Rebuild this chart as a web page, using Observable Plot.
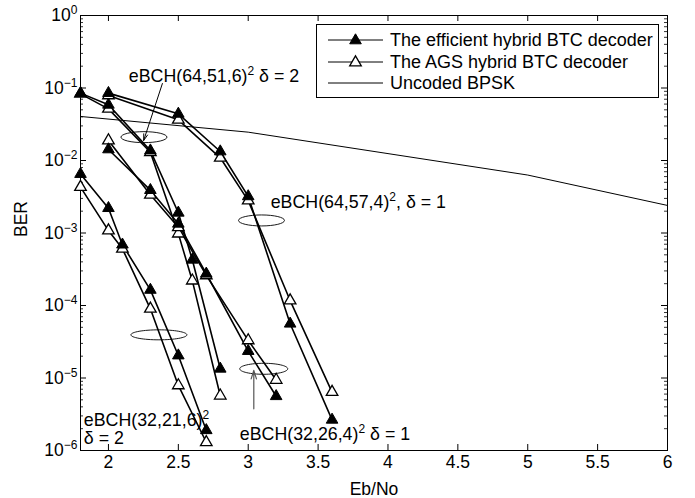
<!DOCTYPE html>
<html>
<head>
<meta charset="utf-8">
<script src="https://cdn.jsdelivr.net/npm/d3@7"></script>
<script src="https://cdn.jsdelivr.net/npm/@observablehq/plot@0.6"></script>
<style>
  body { margin: 0; background: white; }
  #wrap { position: relative; width: 695px; height: 498px; font-family: "Liberation Sans", Arial, Helvetica, sans-serif; }
  #legend { position: absolute; left: 316px; top: 24px; }
</style>
</head>
<body>
<div id="wrap"></div>
<script>
// ---------------- data ----------------
const xTicks = [2, 2.5, 3, 3.5, 4, 4.5, 5, 5.5, 6];
const xTickLabels = ["2", "2.5", "3", "3.5", "4", "4.5", "5", "5.5", "6"];
const yMajor = [1e-6, 1e-5, 1e-4, 1e-3, 1e-2, 1e-1, 1];
const yTickLabels = ["10^{−6}", "10^{−5}", "10^{−4}", "10^{−3}", "10^{−2}", "10^{−1}", "10^{0}"];

const legendLabels = ["The efficient hybrid BTC decoder", "The AGS hybrid BTC decoder", "Uncoded BPSK"];

// eBCH(64,51,6)^2, delta = 2
const x_6451 = [1.8, 2.0, 2.3, 2.5, 2.6, 2.8];
const eff_6451 = [0.085, 0.0586, 0.0137, 0.0019, 4.27e-4, 1.34e-5];
const ags_6451 = [0.083, 0.0516, 0.0130, 0.00098, 2.2e-4, 5.7e-6];
// eBCH(64,57,4)^2, delta = 1
const x_6457 = [2.0, 2.5, 2.8, 3.0, 3.3, 3.6];
const eff_6457 = [0.085, 0.044, 0.0133, 0.0032, 5.6e-5, 2.65e-6];
const ags_6457 = [0.079, 0.0364, 0.0109, 0.0028, 1.17e-4, 6.4e-6];
// eBCH(32,26,4)^2, delta = 1
const x_3226 = [2.0, 2.3, 2.5, 2.7, 3.0, 3.2];
const eff_3226 = [0.0142, 0.0039, 0.00134, 2.74e-4, 2.35e-5, 5.6e-6];
const ags_3226 = [0.0189, 0.00336, 0.0012, 2.6e-4, 3.3e-5, 9.4e-6];
// eBCH(32,21,6)^2, delta = 2
const x_3221 = [1.8, 2.0, 2.1, 2.3, 2.5, 2.7];
const eff_3221 = [0.0065, 0.0022, 6.9e-4, 1.64e-4, 2.04e-5, 1.9e-6];
const ags_3221 = [0.0043, 0.00108, 6.05e-4, 9.0e-5, 7.9e-6, 1.3e-6];
// Uncoded BPSK
const bpskX = [1.8, 3.0, 5.0, 6.0];
const bpskY = [0.0405, 0.0246, 0.0063, 0.0024];

// annotations (anchor points in data coordinates)
const annoText = ["eBCH(64,51,6)^{2} δ = 2", "eBCH(64,57,4)^{2}, δ = 1", "eBCH(32,21,6)^{2}\nδ = 2", "eBCH(32,26,4)^{2} δ = 1"];
const annoX = [2.146, 3.161, 1.824, 2.94];
const annoY = [0.1486, 0.00264, 1.98e-6, 1.71e-6];
const ellipseX = [2.254, 3.095, 2.361, 3.111];
const ellipseY = [0.0210, 0.00149, 3.94e-5, 1.34e-5];
const arrowX1 = [2.386, 3.04], arrowY1 = [0.1153, 3.76e-6];
const arrowX2 = [2.252, 3.04], arrowY2 = [0.0189, 1.27e-5];

// ---------------- build tables ----------------
function series(code, xs, ys) { return xs.map((x, i) => ({code, x, y: ys[i]})); }
const eff = [
  ...series("6451", x_6451, eff_6451), ...series("6457", x_6457, eff_6457),
  ...series("3226", x_3226, eff_3226), ...series("3221", x_3221, eff_3221)
];
const ags = [
  ...series("6451", x_6451, ags_6451), ...series("6457", x_6457, ags_6457),
  ...series("3226", x_3226, ags_3226), ...series("3221", x_3221, ags_3221)
];
const bpsk = series("bpsk", bpskX, bpskY);
const annos = annoText.map((t, i) => ({t, x: annoX[i], y: annoY[i]}));
const arrowsData = arrowX1.map((d, i) => ({x1: d, y1: arrowY1[i], x2: arrowX2[i], y2: arrowY2[i]}));
const yMinor = [];
for (let e = -6; e < 0; e++) for (let k = 2; k <= 9; k++) yMinor.push(k * Math.pow(10, e));

function ellipseSymbol(rx, ry) {
  const k = 0.5523;
  return {draw(c) {
    c.moveTo(rx, 0);
    c.bezierCurveTo(rx, k * ry, k * rx, ry, 0, ry);
    c.bezierCurveTo(-k * rx, ry, -rx, k * ry, -rx, 0);
    c.bezierCurveTo(-rx, -k * ry, -k * rx, -ry, 0, -ry);
    c.bezierCurveTo(k * rx, -ry, rx, -k * ry, rx, 0);
    c.closePath();
  }};
}
const ellSizes = [[23, 5.5], [23, 5.5], [28, 5], [24, 5.5]];

const W = 695, H = 498, mT = 15, mR = 28, mB = 48, mL = 80;
const plotW = W - mL - mR, plotH = H - mT - mB;
const FONT = "Liberation Sans, Arial, Helvetica, sans-serif";

const chart = Plot.plot({
  width: W, height: H,
  marginTop: mT, marginRight: mR, marginBottom: mB, marginLeft: mL,
  style: {fontFamily: FONT, fontSize: "17px", background: "white", color: "black", overflow: "visible"},
  x: {domain: [1.8, 6], label: null},
  y: {type: "log", domain: [1e-6, 1], label: null},
  marks: [
    // inward ticks (MATLAB style) on all four sides
    Plot.ruleX(xTicks, {x: d => d, insetTop: plotH - 6, stroke: "black"}),
    Plot.ruleX(xTicks, {x: d => d, insetBottom: plotH - 6, stroke: "black"}),
    Plot.ruleY(yMajor, {y: d => d, insetRight: plotW - 6, stroke: "black"}),
    Plot.ruleY(yMajor, {y: d => d, insetLeft: plotW - 6, stroke: "black"}),
    Plot.ruleY(yMinor, {y: d => d, insetRight: plotW - 3, stroke: "black", strokeWidth: 0.8}),
    Plot.ruleY(yMinor, {y: d => d, insetLeft: plotW - 3, stroke: "black", strokeWidth: 0.8}),
    Plot.frame({stroke: "black", strokeWidth: 1}),
    Plot.axisX(xTicks, {anchor: "bottom", tickSize: 0, tickPadding: 5, label: null,
      tickFormat: d => xTickLabels[xTicks.indexOf(d)], fontSize: 17.5}),
    Plot.axisY(yMajor, {anchor: "left", tickSize: 0, tickPadding: 3, label: null,
      tickFormat: d => yTickLabels[yMajor.indexOf(d)], fontSize: 17.5}),
    Plot.text(["Eb/No"], {frameAnchor: "bottom", lineAnchor: "top", dy: 32, fontSize: 17.5}),
    Plot.text(["BER"], {frameAnchor: "left", dx: -59, dy: 4, rotate: -90, fontSize: 17.5}),
    // uncoded BPSK
    Plot.line(bpsk, {x: "x", y: "y", stroke: "black", strokeWidth: 1}),
    // BTC curves
    Plot.line(ags, {x: "x", y: "y", z: "code", stroke: "black", strokeWidth: 1.6}),
    Plot.line(eff, {x: "x", y: "y", z: "code", stroke: "black", strokeWidth: 1.6}),
    Plot.dot(ags, {x: "x", y: "y", symbol: "triangle", r: 4.3, fill: "white", stroke: "black", strokeWidth: 1.3}),
    Plot.dot(eff, {x: "x", y: "y", symbol: "triangle", r: 4.3, fill: "black", stroke: "black", strokeWidth: 1}),
    // annotations
    ...ellipseX.map((ex, i) => Plot.dot([{x: ex, y: ellipseY[i]}], {x: "x", y: "y",
      symbol: ellipseSymbol(ellSizes[i][0], ellSizes[i][1]), r: 5, fill: "none", stroke: "black", strokeWidth: 0.9})),
    Plot.arrow([arrowsData[0]], {x1: "x1", y1: "y1", x2: "x2", y2: "y2", stroke: "black", strokeWidth: 1, headLength: 10, headAngle: 35}),
    Plot.arrow([arrowsData[1]], {x1: "x1", y1: "y1", x2: "x2", y2: "y2", stroke: "#555", strokeWidth: 1.2, headLength: 11, headAngle: 35}),
    Plot.text(annos, {x: "x", y: "y", text: "t", textAnchor: "start", lineAnchor: "middle", lineHeight: 1.05, fontSize: 17.8, fill: "black"})
  ]
});

// superscripts: turn "a^{b}c" into tspans; baseline-shift does not move later text
const NS = "http://www.w3.org/2000/svg";
function supify(root) {
  root.querySelectorAll("text").forEach(el => {
    const targets = el.querySelector("tspan") ? [...el.querySelectorAll("tspan")] : [el];
    for (const t of targets) {
      const m = t.textContent.match(/^(.*?)\^\{(.*?)\}(.*)$/);
      if (!m) continue;
      t.textContent = "";
      t.appendChild(document.createTextNode(m[1]));
      const sup = document.createElementNS(NS, "tspan");
      sup.setAttribute("baseline-shift", "7");
      sup.setAttribute("font-size", "12");
      sup.textContent = m[2];
      t.appendChild(sup);
      if (m[3]) t.appendChild(document.createTextNode(m[3]));
    }
  });
}
supify(chart);

const wrap = document.getElementById("wrap");
wrap.appendChild(chart);

// legend (inside the axes box, top right)
const lg = d3.create("svg").attr("id", "legend").attr("width", 343).attr("height", 74)
  .style("font-family", FONT).style("font-size", "18px");
lg.append("rect").attr("x", 0.5).attr("y", 0.5).attr("width", 342).attr("height", 73)
  .attr("fill", "white").attr("stroke", "black");
const rowsY = [16, 38, 59];
const tri = "0,-6.7 5.8,3.3 -5.8,3.3";
legendLabels.forEach((lab, i) => {
  const g = lg.append("g").attr("transform", `translate(0,${rowsY[i]})`);
  g.append("line").attr("x1", 12).attr("x2", 67).attr("stroke", "black").attr("stroke-width", 1);
  if (i < 2) {
    g.append("polygon").attr("points", tri).attr("transform", "translate(39.5,0.5)")
      .attr("fill", i === 0 ? "black" : "white").attr("stroke", "black").attr("stroke-width", i === 0 ? 1 : 1.3);
  }
  g.append("text").attr("x", 74).attr("dy", "0.35em").attr("fill", "black").text(lab);
});
wrap.appendChild(lg.node());
</script>
</body>
</html>
